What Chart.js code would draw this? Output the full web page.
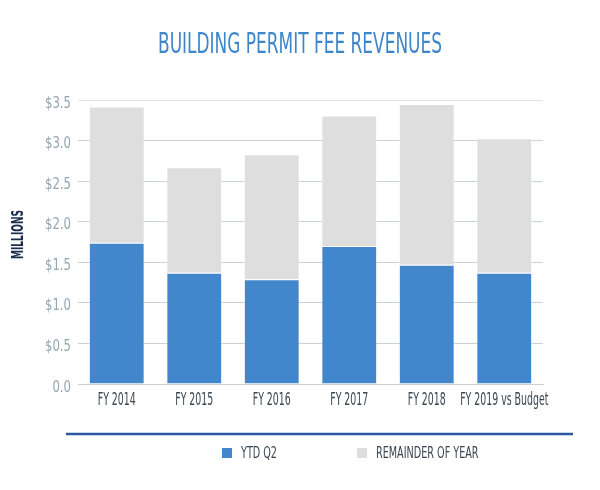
<!DOCTYPE html>
<html>
<head>
<meta charset="utf-8">
<script src="https://cdn.jsdelivr.net/npm/chart.js@4.4.1/dist/chart.umd.min.js"></script>
<style>
  html, body { margin: 0; padding: 0; background: #fff; }
  #wrap { width: 600px; height: 490px; }
</style>
</head>
<body>
<div id="wrap"><canvas id="chart" width="600" height="490"></canvas></div>
<script>
const titleText = "BUILDING PERMIT FEE REVENUES";
const yAxisTitle = "MILLIONS";
const years = ["FY 2014", "FY 2015", "FY 2016", "FY 2017", "FY 2018", "FY 2019 vs Budget"];
const ytdQ2 = [1.74, 1.37, 1.29, 1.70, 1.47, 1.37];
const remainder = [1.68, 1.30, 1.54, 1.61, 1.98, 1.66];
const yTickLabels = ["0.0", "$0.5", "$1.0", "$1.5", "$2.0", "$2.5", "$3.0", "$3.5"];
const seriesNames = ["YTD Q2", "REMAINDER OF YEAR"];

const BLUE = "#4287cb";
const GREY = "#dedede";
const FONT = "'DejaVu Sans Condensed', 'DejaVu Sans', sans-serif";

// draw text squeezed horizontally so that `ref` would be `refWidth` px wide
function squeezed(ctx, text, x, y, ref, refWidth, align, angle) {
  const sx = refWidth / ctx.measureText(ref).width;
  ctx.save();
  ctx.translate(x, y);
  if (angle) ctx.rotate(angle);
  ctx.scale(sx, 1);
  ctx.textAlign = align;
  ctx.fillText(text, 0, 0);
  ctx.restore();
}

// title, axis labels, separator rule and legend
const extras = {
  id: "extras",
  afterDraw(chart) {
    const ctx = chart.ctx;
    const xs = chart.scales.x;
    const ys = chart.scales.y;
    ctx.save();
    ctx.textBaseline = "alphabetic";

    ctx.fillStyle = "#3d86cc";
    ctx.font = "28px " + FONT;
    squeezed(ctx, titleText, 300, 52.5, titleText, 284, "center");

    ctx.fillStyle = "#94a6ae";
    ctx.font = "15px " + FONT;
    ys.ticks.forEach((t, i) => {
      squeezed(ctx, yTickLabels[i], 71, ys.getPixelForValue(t.value) + 7.5, "$3.5", 26, "right");
    });

    ctx.fillStyle = "#1a2b4c";
    ctx.font = "bold 15px " + FONT;
    ctx.textBaseline = "middle";
    squeezed(ctx, yAxisTitle, 19.5, 234.5, yAxisTitle, 49, "center", -Math.PI / 2);
    ctx.textBaseline = "alphabetic";

    ctx.fillStyle = "#3b4650";
    ctx.font = "17px " + FONT;
    years.forEach((lab, i) => {
      squeezed(ctx, lab, xs.getPixelForValue(i), 405, "FY 2014", 38, "center");
    });

    ctx.strokeStyle = "#2b57a3";
    ctx.lineWidth = 2.5;
    ctx.beginPath();
    ctx.moveTo(66, 434);
    ctx.lineTo(573, 434);
    ctx.stroke();

    const items = [[222, 241], [357, 376]];
    ctx.font = "16px " + FONT;
    chart.data.datasets.forEach((ds, i) => {
      const [bx, tx] = items[i];
      ctx.fillStyle = ds.backgroundColor;
      ctx.fillRect(bx, 448, 10, 10);
      ctx.fillStyle = "#3b4650";
      squeezed(ctx, ds.label, tx, 458, "YTD Q2", 36, "left");
    });
    ctx.restore();
  }
};

new Chart(document.getElementById("chart"), {
  type: "bar",
  data: {
    labels: years,
    datasets: [
      { label: seriesNames[0], data: ytdQ2, backgroundColor: BLUE,
        borderColor: "rgba(255,255,255,0.3)", borderWidth: 1 },
      { label: seriesNames[1], data: remainder, backgroundColor: GREY,
        borderColor: "rgba(255,255,255,0.5)", borderWidth: 1 }
    ]
  },
  options: {
    responsive: false,
    animation: false,
    layout: { padding: { top: 100, right: 57, bottom: 106, left: 78 } },
    datasets: { bar: { categoryPercentage: 0.72, barPercentage: 1 } },
    plugins: {
      legend: { display: false },
      title: { display: false },
      tooltip: { enabled: false }
    },
    scales: {
      x: {
        stacked: true,
        grid: { display: false, drawTicks: false },
        border: { color: "#c8d3d5" },
        ticks: { display: false }
      },
      y: {
        stacked: true,
        min: 0,
        max: 3.5,
        ticks: { stepSize: 0.5, display: false },
        grid: {
          color: (c) => (c.index === 7 ? "#e0e4e6" : "#c8d3d5"),
          drawTicks: false
        },
        border: { display: false }
      }
    }
  },
  plugins: [extras]
});
</script>
</body>
</html>
